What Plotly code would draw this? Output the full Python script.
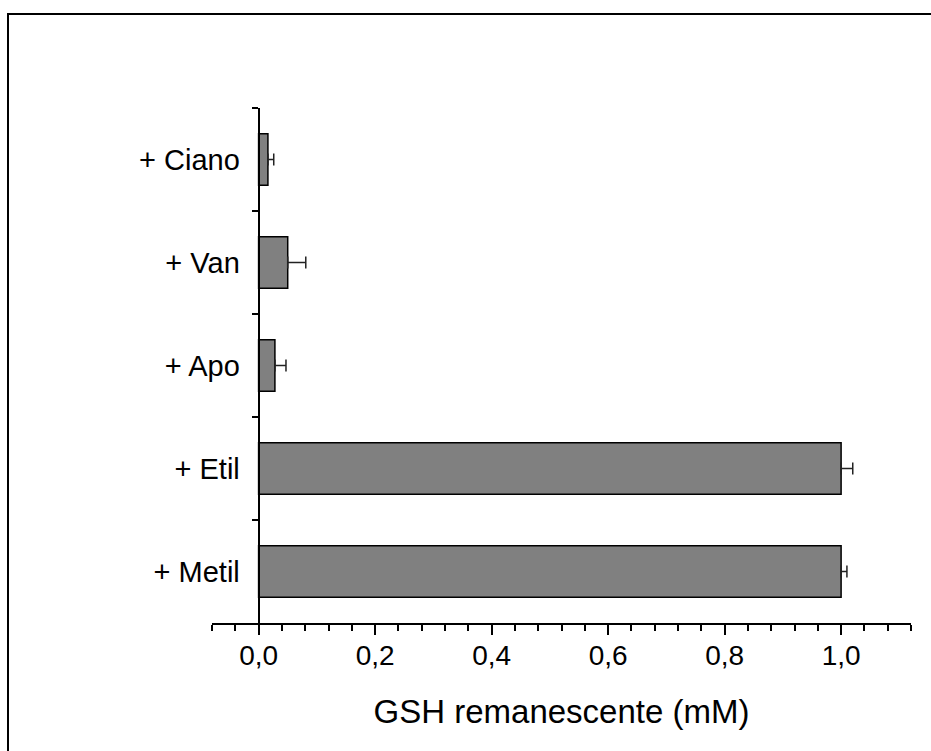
import plotly.graph_objects as go

# Remaining GSH per treatment (top to bottom as drawn)
categories = ["+ Ciano", "+ Van", "+ Apo", "+ Etil", "+ Metil"]
gsh_mm = [0.016, 0.050, 0.028, 1.000, 1.000]
gsh_err = [0.010, 0.031, 0.019, 0.020, 0.010]

x_title = "GSH remanescente (mM)"
x_range = [-0.08, 1.12]

W, H = 931, 751
ML, MR, MT, MB = 212, 20, 108, 128

FONT = "Liberation Sans, Arial, sans-serif"
n = len(categories)
# y position (paper fraction) of x = 0, where the category axis sits
y_axis_pos = (0 - x_range[0]) / (x_range[1] - x_range[0])

fig = go.Figure()
fig.add_trace(go.Bar(
    x=gsh_mm,
    y=categories,
    orientation="h",
    width=0.5,
    marker=dict(color="#808080", line=dict(color="black", width=1.5)),
    error_x=dict(
        type="data",
        symmetric=False,
        array=gsh_err,
        arrayminus=[0] * n,
        color="#222222",
        thickness=1.5,
        width=6,
    ),
    showlegend=False,
))

# outer frame around the whole figure
pw = W - ML - MR
ph = H - MT - MB
fx0 = (8 - ML) / pw
fy1 = 1 + (MT - 14) / ph
fig.add_shape(type="rect", xref="paper", yref="paper",
              x0=fx0, x1=1.5, y0=-1.0, y1=fy1,
              line=dict(color="black", width=2), fillcolor="rgba(0,0,0,0)",
              layer="above")

fig.update_layout(
    width=W, height=H,
    margin=dict(l=ML, r=MR, t=MT, b=MB, pad=0),
    paper_bgcolor="white",
    plot_bgcolor="white",
    separators=",.",
    font=dict(family=FONT, color="black"),
    xaxis=dict(
        range=x_range,
        showgrid=False,
        zeroline=False,
        showline=True, linecolor="black", linewidth=2,
        ticks="outside", ticklen=10, tickwidth=1.5, tickcolor="black",
        tick0=0, dtick=0.2, tickformat=".1f",
        tickfont=dict(size=28, family=FONT),
        ticklabelstandoff=-4,
        minor=dict(ticks="outside", ticklen=6, tickwidth=1.5,
                   tickcolor="black", dtick=0.04, tick0=0, showgrid=False),
        title=dict(text=x_title, font=dict(size=33, family=FONT), standoff=30),
    ),
    yaxis=dict(
        type="category",
        categoryarray=categories,
        range=[n - 0.5, -0.5],
        anchor="free", position=y_axis_pos,
        showgrid=False, zeroline=False,
        showline=True, linecolor="black", linewidth=2,
        ticks="outside", tickson="boundaries", ticklen=6, tickwidth=1.5,
        tickcolor="black",
        tickfont=dict(size=29, family=FONT),
        ticklabelstandoff=12,
    ),
    yaxis2=dict(
        overlaying="y",
        range=[n - 0.5, -0.5],
        anchor="free", position=y_axis_pos,
        side="left",
        showgrid=False, zeroline=False, showline=False,
        ticks="inside", ticklen=5, tickwidth=1.5, tickcolor="black",
        tickvals=[i - 0.5 for i in range(n + 1)],
        showticklabels=False,
        minor=dict(ticks="inside", ticklen=2, tickwidth=1, tickcolor="black",
                   tickvals=list(range(n)), showgrid=False),
    ),
    bargap=0.5,
)

fig.write_html("out.html")
